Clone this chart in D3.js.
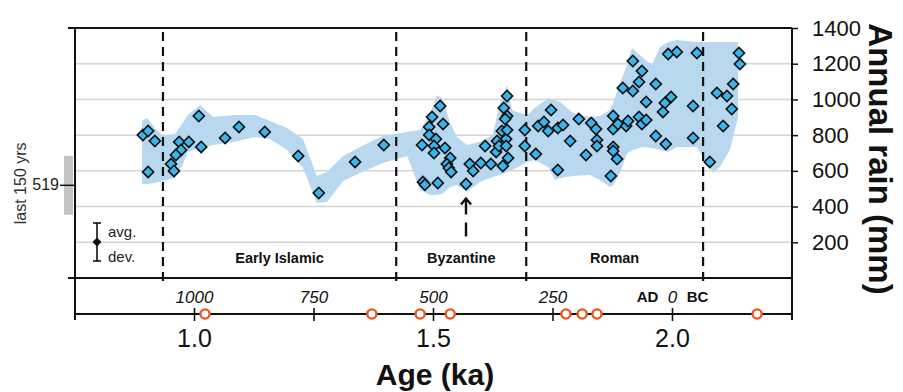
<!DOCTYPE html>
<html>
<head>
<meta charset="utf-8">
<script src="https://cdn.jsdelivr.net/npm/d3@7"></script>
<style>
  body { margin: 0; background: #fff; }
  svg { display: block; font-family: "Liberation Sans", Arial, sans-serif; }
</style>
</head>
<body>
<div id="chart"></div>
<script>
// rainfall reconstructions: age (ka) and annual rain (mm)
const sampleAge = [0.892, 0.903, 0.917, 0.903, 1.009, 0.968, 0.988, 0.972, 0.961, 0.951, 0.957, 1.014, 1.064, 1.093, 1.147, 1.217, 1.260, 1.336, 1.396,
  1.476, 1.478, 1.482, 1.491, 1.491, 1.497, 1.514, 1.520, 1.505, 1.501, 1.524, 1.501, 1.535, 1.528, 1.532, 1.537, 1.509, 1.568,
  1.576, 1.583, 1.599, 1.620, 1.608, 1.633, 1.631, 1.637, 1.643, 1.652, 1.652, 1.656, 1.645, 1.654, 1.647, 1.654, 1.650, 1.654,
  1.691, 1.691, 1.714, 1.719, 1.731, 1.740, 1.746, 1.760, 1.771, 1.786, 1.760, 1.804, 1.819, 1.830, 1.840, 1.842, 1.842,
  1.871, 1.876, 1.876, 1.886, 1.876, 1.876, 1.884, 1.903, 1.907, 1.930, 1.936, 1.945, 1.896, 1.917, 1.930, 1.917, 1.936,
  1.965, 1.945, 1.984, 1.997, 1.980, 1.965, 1.986, 1.991, 2.009, 2.051, 2.043, 2.043,
  2.078, 2.093, 2.114, 2.127, 2.124, 2.106, 2.139, 2.141];
const sampleRain = [801, 823, 767, 594, 907, 762, 762, 717, 689, 638, 599, 734, 784, 846, 818, 683, 476, 650, 745,
  745, 538, 522, 846, 801, 902, 963, 862, 778, 739, 728, 700, 672, 638, 616, 594, 532, 526,
  638, 599, 644, 638, 739, 767, 706, 739, 823, 778, 739, 672, 627, 1019, 952, 907, 890, 829,
  829, 739, 694, 851, 874, 823, 941, 840, 857, 767, 605, 890, 689, 868, 834, 773, 739,
  571, 907, 834, 862, 734, 711, 666, 851, 879, 902, 862, 885, 1064, 1047, 1098, 1215, 1159,
  1086, 986, 980, 1014, 930, 795, 750, 1254, 1266, 1260, 963, 784,
  650, 1036, 1019, 1086, 946, 851, 1260, 1198];

// shaded envelope
const bandAge = [0.890, 0.901, 0.917, 0.934, 0.959, 0.974, 0.986, 1.012, 1.039, 1.081, 1.127, 1.158, 1.194, 1.227, 1.256, 1.277,
  1.311, 1.346, 1.394, 1.445, 1.472, 1.493, 1.507, 1.518, 1.535, 1.549, 1.570, 1.597, 1.624, 1.639, 1.654, 1.664, 1.681,
  1.696, 1.712, 1.740, 1.754, 1.765, 1.792, 1.827, 1.848, 1.869, 1.876, 1.890, 1.905, 1.915, 1.936, 1.957, 1.974, 1.991,
  2.009, 2.051, 2.064, 2.085, 2.099, 2.120, 2.137];
const bandHi = [879, 896, 840, 795, 806, 862, 913, 969, 902, 913, 913, 879, 840, 778, 571, 594,
  683, 734, 795, 818, 829, 924, 1024, 1008, 868, 790, 745, 762, 801, 980, 1081, 941, 924,
  913, 952, 1008, 997, 986, 924, 902, 907, 941, 980, 1092, 1193, 1288, 1238, 1193, 1294, 1322,
  1333, 1322, 1322, 1322, 1322, 1322, 1322];
const bandLo = [526, 526, 532, 543, 560, 627, 706, 728, 745, 762, 790, 778, 717, 616, 420, 426,
  543, 588, 644, 683, 493, 465, 465, 470, 510, 521, 482, 538, 566, 577, 594, 605, 627,
  650, 661, 622, 549, 560, 571, 577, 549, 510, 521, 588, 697, 714, 734, 728, 717, 706,
  734, 734, 678, 588, 622, 717, 902];

// period boundaries (ka) and names
const periodBounds = [0.934, 1.422, 1.694, 2.064];
const periodNames = ["Early Islamic", "Byzantine", "Roman"];

// radiocarbon dates (ka)
const dateAge = [1.022, 1.371, 1.472, 1.535, 1.777, 1.811, 1.842, 2.177];

// axis ticks
const rainTicks = [200, 400, 600, 800, 1000, 1200, 1400];
const gridTicks = [200, 400, 600, 800, 1000, 1200];
const ageTicks = [1.0, 1.25, 1.5, 1.75, 2.0];
const ageLabels = [1.0, 1.5, 2.0];
const yearLabels = [1000, 750, 500, 250, 0];

// modern reference (last 150 yrs)
const modernAvg = 519;
const modernDev = 165;

// arrow marking the low at ~1.57 ka
const arrowAge = 1.568;
const arrowRain = [224, 445];

const W = 903, H = 392;
const plotL = 75, plotR = 792, plotT = 28, plotB = 278, ageAxisY = 314;

const svg = d3.select("#chart").append("svg")
  .attr("width", W)
  .attr("height", H);

const x = d3.scaleLinear().domain([0.75, 2.25]).range([plotL, plotR]);
const y = d3.scaleLinear().domain([0, 1400]).range([plotB, plotT]);

// gridlines
svg.append("g").selectAll("line").data(gridTicks).join("line")
  .attr("x1", plotL).attr("x2", plotR)
  .attr("y1", d => y(d)).attr("y2", d => y(d))
  .attr("stroke", "#d4d4d4").attr("stroke-width", 1.5);

// envelope
const band = bandAge.map((a, i) => ({ age: a, hi: bandHi[i], lo: bandLo[i] }));
svg.append("path")
  .datum(band)
  .attr("fill", "#b8d8ef")
  .attr("d", d3.area().x(d => x(d.age)).y0(d => y(d.lo)).y1(d => y(d.hi)).curve(d3.curveLinear));

// period dashed lines
svg.append("g").selectAll("line").data(periodBounds).join("line")
  .attr("x1", d => x(d)).attr("x2", d => x(d))
  .attr("y1", plotT + 4).attr("y2", plotB + 4)
  .attr("stroke", "#111").attr("stroke-width", 2.2)
  .attr("stroke-dasharray", "9,6");

// period names
svg.append("g").selectAll("text").data(periodNames).join("text")
  .attr("x", (d, i) => x((periodBounds[i] + periodBounds[i + 1]) / 2))
  .attr("y", 263)
  .attr("text-anchor", "middle")
  .attr("font-size", 14.5)
  .attr("font-weight", "bold")
  .attr("fill", "#111")
  .text(d => d);

// frame
const frame = svg.append("g").attr("stroke", "#111").attr("stroke-width", 2).attr("fill", "none");
frame.append("line").attr("x1", plotL - 7).attr("x2", plotR).attr("y1", plotT).attr("y2", plotT);
frame.append("line").attr("x1", plotL - 7).attr("x2", plotR).attr("y1", plotB).attr("y2", plotB);
frame.append("line").attr("x1", plotL).attr("x2", plotL).attr("y1", plotT).attr("y2", ageAxisY + 6);
frame.append("line").attr("x1", plotR).attr("x2", plotR).attr("y1", plotT).attr("y2", ageAxisY + 6);
frame.append("line").attr("x1", plotL).attr("x2", plotR).attr("y1", ageAxisY).attr("y2", ageAxisY);

// right rain axis
const rAxis = svg.append("g")
  .attr("transform", `translate(${plotR},0)`)
  .call(d3.axisRight(y).tickValues(rainTicks).tickFormat(d3.format("d")).tickSize(6).tickPadding(14));
rAxis.select(".domain").remove();
rAxis.selectAll("line").attr("stroke", "#111").attr("stroke-width", 1.5);
rAxis.selectAll("text")
  .attr("font-size", 22)
  .attr("font-family", "Liberation Sans, Arial, sans-serif")
  .attr("fill", "#111");

svg.append("text")
  .attr("transform", `translate(869, ${(plotT + plotB) / 2 + 6}) rotate(90)`)
  .attr("text-anchor", "middle")
  .attr("font-size", 33)
  .attr("font-weight", "bold")
  .attr("fill", "#111")
  .text("Annual rain (mm)");

// modern reference at left
svg.append("rect")
  .attr("x", 64).attr("width", 9)
  .attr("y", y(modernAvg + modernDev))
  .attr("height", y(modernAvg - modernDev) - y(modernAvg + modernDev))
  .attr("fill", "#c4c4c4");
svg.append("line")
  .attr("x1", 60).attr("x2", plotL)
  .attr("y1", y(modernAvg)).attr("y2", y(modernAvg))
  .attr("stroke", "#111").attr("stroke-width", 1.5);
svg.append("text")
  .attr("x", 59).attr("y", y(modernAvg) + 5)
  .attr("text-anchor", "end")
  .attr("font-size", 16)
  .attr("fill", "#222")
  .text(modernAvg);
svg.append("text")
  .attr("transform", `translate(26, ${y(modernAvg) - 2}) rotate(-90)`)
  .attr("text-anchor", "middle")
  .attr("font-size", 16)
  .attr("fill", "#333")
  .text("last 150 yrs");

// legend: avg / dev
const leg = svg.append("g").attr("stroke", "#111").attr("stroke-width", 1.6);
leg.append("line").attr("x1", 97).attr("x2", 97).attr("y1", 223).attr("y2", 261);
leg.append("line").attr("x1", 93).attr("x2", 101).attr("y1", 223).attr("y2", 223);
leg.append("line").attr("x1", 93).attr("x2", 101).attr("y1", 261).attr("y2", 261);
svg.append("path")
  .attr("d", d3.symbol(d3.symbolSquare, 40)())
  .attr("transform", "translate(97,242) rotate(45)")
  .attr("fill", "#111");
svg.append("text").attr("x", 108).attr("y", 237).attr("font-size", 15).attr("fill", "#222").text("avg.");
svg.append("text").attr("x", 108).attr("y", 262).attr("font-size", 15).attr("fill", "#222").text("dev.");

// data points
svg.append("g").selectAll("path")
  .data(sampleAge.map((a, i) => ({ age: a, rain: sampleRain[i] })))
  .join("path")
  .attr("d", d3.symbol(d3.symbolSquare, 62)())
  .attr("transform", d => `translate(${x(d.age)},${y(d.rain)}) rotate(45)`)
  .attr("fill", "#39b4ec")
  .attr("stroke", "#111")
  .attr("stroke-width", 1.6);

// arrow
const ax = x(arrowAge);
svg.append("line")
  .attr("x1", ax).attr("x2", ax)
  .attr("y1", y(arrowRain[1])).attr("y2", y(arrowRain[0]))
  .attr("stroke", "#111").attr("stroke-width", 2.4)
  .attr("stroke-dasharray", "16,8,14");
svg.append("polyline")
  .attr("points", `${ax - 5},${y(arrowRain[1]) + 6} ${ax},${y(arrowRain[1])} ${ax + 5},${y(arrowRain[1]) + 6}`)
  .attr("fill", "none").attr("stroke", "#111").attr("stroke-width", 2.4);

// age axis ticks
svg.append("g").selectAll("line").data(ageTicks).join("line")
  .attr("x1", d => x(d)).attr("x2", d => x(d))
  .attr("y1", ageAxisY - 6).attr("y2", ageAxisY + 7)
  .attr("stroke", "#111").attr("stroke-width", 1.6);

svg.append("g").selectAll("text").data(ageLabels).join("text")
  .attr("x", d => x(d)).attr("y", 347)
  .attr("text-anchor", "middle")
  .attr("font-size", 25)
  .attr("fill", "#111")
  .text(d3.format(".1f"));

svg.append("g").selectAll("text").data(yearLabels).join("text")
  .attr("x", d => x(2 - d / 1000)).attr("y", 303)
  .attr("text-anchor", "middle")
  .attr("font-size", 17)
  .attr("font-style", "italic")
  .attr("fill", "#111")
  .text(d => d);

svg.append("text").attr("x", x(2) - 25).attr("y", 302).attr("text-anchor", "middle")
  .attr("font-size", 15).attr("font-weight", "bold").attr("fill", "#111").text("AD");
svg.append("text").attr("x", x(2) + 25).attr("y", 302).attr("text-anchor", "middle")
  .attr("font-size", 15).attr("font-weight", "bold").attr("fill", "#111").text("BC");

// radiocarbon dates
svg.append("g").selectAll("circle").data(dateAge).join("circle")
  .attr("cx", d => x(d)).attr("cy", ageAxisY)
  .attr("r", 4.6)
  .attr("fill", "#fff")
  .attr("stroke", "#e8561c")
  .attr("stroke-width", 2.4);

svg.append("text")
  .attr("x", 435).attr("y", 385)
  .attr("text-anchor", "middle")
  .attr("font-size", 30)
  .attr("font-weight", "bold")
  .attr("fill", "#111")
  .text("Age (ka)");
</script>
</body>
</html>
